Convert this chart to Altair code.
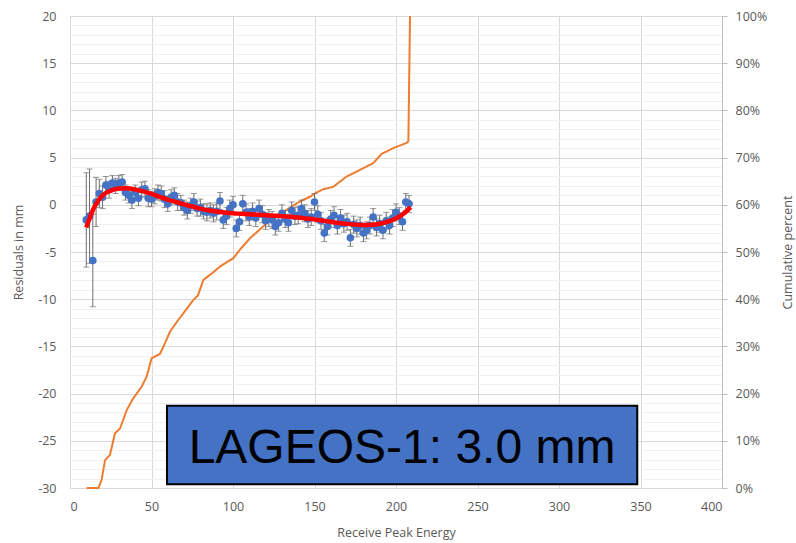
import altair as alt
import pandas as pd

# ---- data ----
energy = [10, 12, 14, 16, 18, 20, 22, 24, 26, 28, 30, 32, 34, 36, 38, 40, 42, 44, 46, 48,
          50, 52, 54, 56, 58, 60, 62, 64, 66, 68, 70, 72, 74, 76, 78, 80, 82, 84, 86, 88,
          90, 92, 94, 96, 98, 100, 102, 104, 106, 108, 110, 112, 114, 116, 118, 120, 122, 124, 126, 128,
          130, 132, 134, 136, 138, 140, 142, 144, 146, 148, 150, 152, 154, 156, 158, 160, 162, 164, 166, 168,
          170, 172, 174, 176, 178, 180, 182, 184, 186, 188, 190, 192, 194, 196, 198, 200, 202, 204, 206, 208]
residual = [-1.6, -1.2, -5.9, 0.3, 1.2, 0.8, 2.1, 1.6, 2.3, 2.0, 2.3, 2.4, 1.3, 1.0, 0.5, 1.3, 0.7, 1.6, 1.7, 0.7,
            0.6, 0.9, 1.3, 1.2, 0.6, 0.1, 0.8, 1.0, 0.3, 0.2, -0.3, -0.6, -0.1, 0.3, -0.4, -0.3, -0.7, -0.8, -0.6, -0.9,
            -0.7, 0.4, -1.6, -1.2, -0.4, 0.0, -2.5, -1.8, 0.1, -0.8, -1.3, -0.7, -1.4, -0.4, -1.0, -1.7, -1.4, -1.6, -2.3, -1.9,
            -0.9, -1.5, -1.9, -0.6, -1.2, -1.1, -0.4, -0.9, -1.5, -1.3, 0.3, -1.0, -1.7, -3.0, -2.3, -1.5, -1.1, -2.2, -1.4, -2.0,
            -1.8, -3.5, -2.1, -2.5, -2.2, -3.0, -2.7, -2.2, -1.3, -2.4, -2.0, -2.7, -1.7, -2.2, -1.4, -0.8, -1.2, -1.8, 0.3, 0.1]
sigma = [5.0, 5.0, 4.9, 2.6, 1.5, 1.2, 0.9, 0.9, 0.8, 0.8, 0.8, 0.8, 0.8, 0.8, 0.9, 0.8, 0.8, 0.8, 0.8, 0.9,
         0.8, 0.8, 0.8, 0.8, 0.9, 0.8, 0.8, 0.8, 0.9, 0.8, 0.8, 0.9, 0.8, 0.9, 0.8, 0.9, 0.8, 0.9, 0.8, 0.9,
         0.9, 0.9, 0.9, 0.9, 0.9, 0.9, 0.9, 0.9, 0.9, 0.9, 0.9, 0.9, 0.9, 0.9, 0.9, 0.9, 0.9, 0.9, 0.9, 0.9,
         0.9, 0.9, 0.9, 0.9, 0.9, 0.9, 0.9, 0.9, 0.9, 0.9, 0.9, 0.9, 0.9, 0.9, 0.9, 0.9, 0.9, 0.9, 0.9, 0.9,
         0.9, 0.9, 0.9, 0.9, 0.9, 0.9, 0.9, 0.9, 0.9, 0.9, 0.9, 0.9, 0.9, 0.9, 0.9, 0.9, 0.9, 0.9, 0.9, 0.9]

fit_energy = [10, 15, 20, 25, 30, 35, 40, 45, 50, 55, 60, 65, 70, 75, 80, 85, 90, 95, 100, 105,
              110, 115, 120, 125, 130, 135, 140, 145, 150, 155, 160, 165, 170, 175, 180, 185, 190, 195, 200, 205, 209]
fit_residual = [-2.4, -0.2, 1.0, 1.5, 1.72, 1.75, 1.62, 1.42, 1.15, 0.85, 0.55, 0.3, 0.05, -0.18, -0.4, -0.58, -0.72, -0.82, -0.9, -0.95,
                -1.0, -1.05, -1.1, -1.15, -1.2, -1.27, -1.35, -1.45, -1.55, -1.68, -1.8, -1.92, -2.02, -2.1, -2.14, -2.12, -2.0, -1.78, -1.45, -0.9, -0.25]

cum_energy = [10.2, 17.4, 19.4, 21.5, 24.5, 27.6, 30.7, 34.8, 38.8, 44.0, 47.0, 50.1, 55.2, 58.3, 61.3, 66.4, 69.5, 75.6,
              78.5, 81.8, 86.0, 92.0, 96.0, 100.2, 105.0, 110.4, 120.7, 130.9, 141.1, 147.2, 150.3, 155.4, 161.5,
              169.7, 177.9, 186.0, 191.2, 198.3, 206.5, 207.6, 208.6]
cum_percent = [0.0, 0.0, 0.017, 0.059, 0.070, 0.116, 0.126, 0.165, 0.190, 0.215, 0.236, 0.275, 0.284, 0.307, 0.331, 0.356, 0.370, 0.398,
               0.408, 0.441, 0.452, 0.469, 0.478, 0.487, 0.508, 0.529, 0.561, 0.585, 0.607, 0.617, 0.624, 0.633, 0.638,
               0.660, 0.674, 0.688, 0.708, 0.720, 0.731, 0.735, 1.0]

label_text = "LAGEOS-1: 3.0 mm"
box_energy = [59.5, 348.0]
box_residual = [-21.3, -29.6]
label_pos = [203.7, -27.35]

# ---- tables ----
pts = pd.DataFrame({
    "energy": energy,
    "residual": residual,
    "lo": [r - s for r, s in zip(residual, sigma)],
    "hi": [r + s for r, s in zip(residual, sigma)],
})
fit = pd.DataFrame({"energy": fit_energy, "residual": fit_residual})
cum = pd.DataFrame({"energy": cum_energy, "pct": cum_percent})
box = pd.DataFrame({"x0": [box_energy[0]], "x1": [box_energy[1]],
                    "y0": [box_residual[0]], "y1": [box_residual[1]]})
lab = pd.DataFrame({"energy": [label_pos[0]], "residual": [label_pos[1]], "t": [label_text]})

FONT = "Open Sans"
GREY = "#595959"
FS = 12.5

x_axis = alt.Axis(values=[0, 50, 100, 150, 200, 250, 300, 350, 400], title="Receive Peak Energy",
                  grid=True, gridColor="#d9d9d9", domain=False, ticks=False,
                  labelPadding=12, titlePadding=14, labelFont=FONT, titleFont=FONT,
                  labelFontSize=FS, titleFontSize=FS, labelColor=GREY, titleColor=GREY,
                  titleFontWeight="normal")
x_scale = alt.Scale(domain=[0, 400], nice=False, zero=False)

y_axis = alt.Axis(values=list(range(-30, 21)),
                  labelExpr="datum.value % 5 === 0 ? '' + datum.value : ''",
                  title="Residuals in mm", grid=True,
                  gridColor={"condition": {"test": "datum.value % 5 === 0", "value": "#d9d9d9"},
                             "value": "#f0f0f0"},
                  domain=False, ticks=False, labelPadding=14, titlePadding=12,
                  labelFont=FONT, titleFont=FONT, labelFontSize=FS, titleFontSize=FS,
                  labelColor=GREY, titleColor=GREY, titleFontWeight="normal")
y_scale = alt.Scale(domain=[-30, 20], nice=False, zero=False)


def X(f):
    return alt.X(f"{f}:Q", scale=x_scale, axis=x_axis)


def Y(f):
    return alt.Y(f"{f}:Q", scale=y_scale, axis=y_axis)


EB = "#6f6f6f"
ebar = alt.Chart(pts).mark_rule(color=EB, strokeWidth=1).encode(x=X("energy"), y=Y("lo"), y2="hi:Q")
cap_lo = alt.Chart(pts).mark_tick(orient="horizontal", color=EB, size=6, thickness=1).encode(
    x=X("energy"), y=Y("lo"))
cap_hi = alt.Chart(pts).mark_tick(orient="horizontal", color=EB, size=6, thickness=1).encode(
    x=X("energy"), y=Y("hi"))
dots = alt.Chart(pts).mark_circle(color="#4472c4", opacity=1, size=58).encode(x=X("energy"), y=Y("residual"))
trend = alt.Chart(fit).mark_line(color="#ff0000", strokeWidth=4.5, interpolate="monotone").encode(
    x=X("energy"), y=Y("residual"))
rect = alt.Chart(box).mark_rect(fill="#4472c4", stroke="#000000", strokeWidth=2).encode(
    x=X("x0"), x2="x1:Q", y=Y("y0"), y2="y1:Q")
txt = alt.Chart(lab).mark_text(font="Liberation Sans", fontSize=48, align="center",
                               baseline="alphabetic", color="#000000").encode(
    x=X("energy"), y=Y("residual"), text="t:N")

resid_layer = alt.layer(ebar, cap_lo, cap_hi, dots, trend, rect, txt)

orange = alt.Chart(cum).mark_line(color="#ed7d31", strokeWidth=2).encode(
    x=X("energy"),
    y=alt.Y("pct:Q", scale=alt.Scale(domain=[0, 1], nice=False),
            axis=alt.Axis(orient="right", format=".0%",
                          values=[0, 0.1, 0.2, 0.3, 0.4, 0.5, 0.6, 0.7, 0.8, 0.9, 1.0],
                          grid=False, domain=True, domainColor="#bfbfbf", tickColor="#bfbfbf",
                          ticks=True, tickSize=5, labelPadding=8, title="Cumulative percent",
                          titleAngle=270, titlePadding=28, labelFont=FONT, titleFont=FONT,
                          labelFontSize=FS, titleFontSize=FS, labelColor=GREY, titleColor=GREY,
                          titleFontWeight="normal")))

chart = alt.layer(orange, resid_layer).resolve_scale(y="independent").properties(
    width=652, height=472, autosize="none",
    padding={"left": 70, "top": 16, "right": 74, "bottom": 55},
).configure_view(stroke=None).configure(background="white")

chart.save("out.html", embed_options={"renderer": "svg", "actions": False})
